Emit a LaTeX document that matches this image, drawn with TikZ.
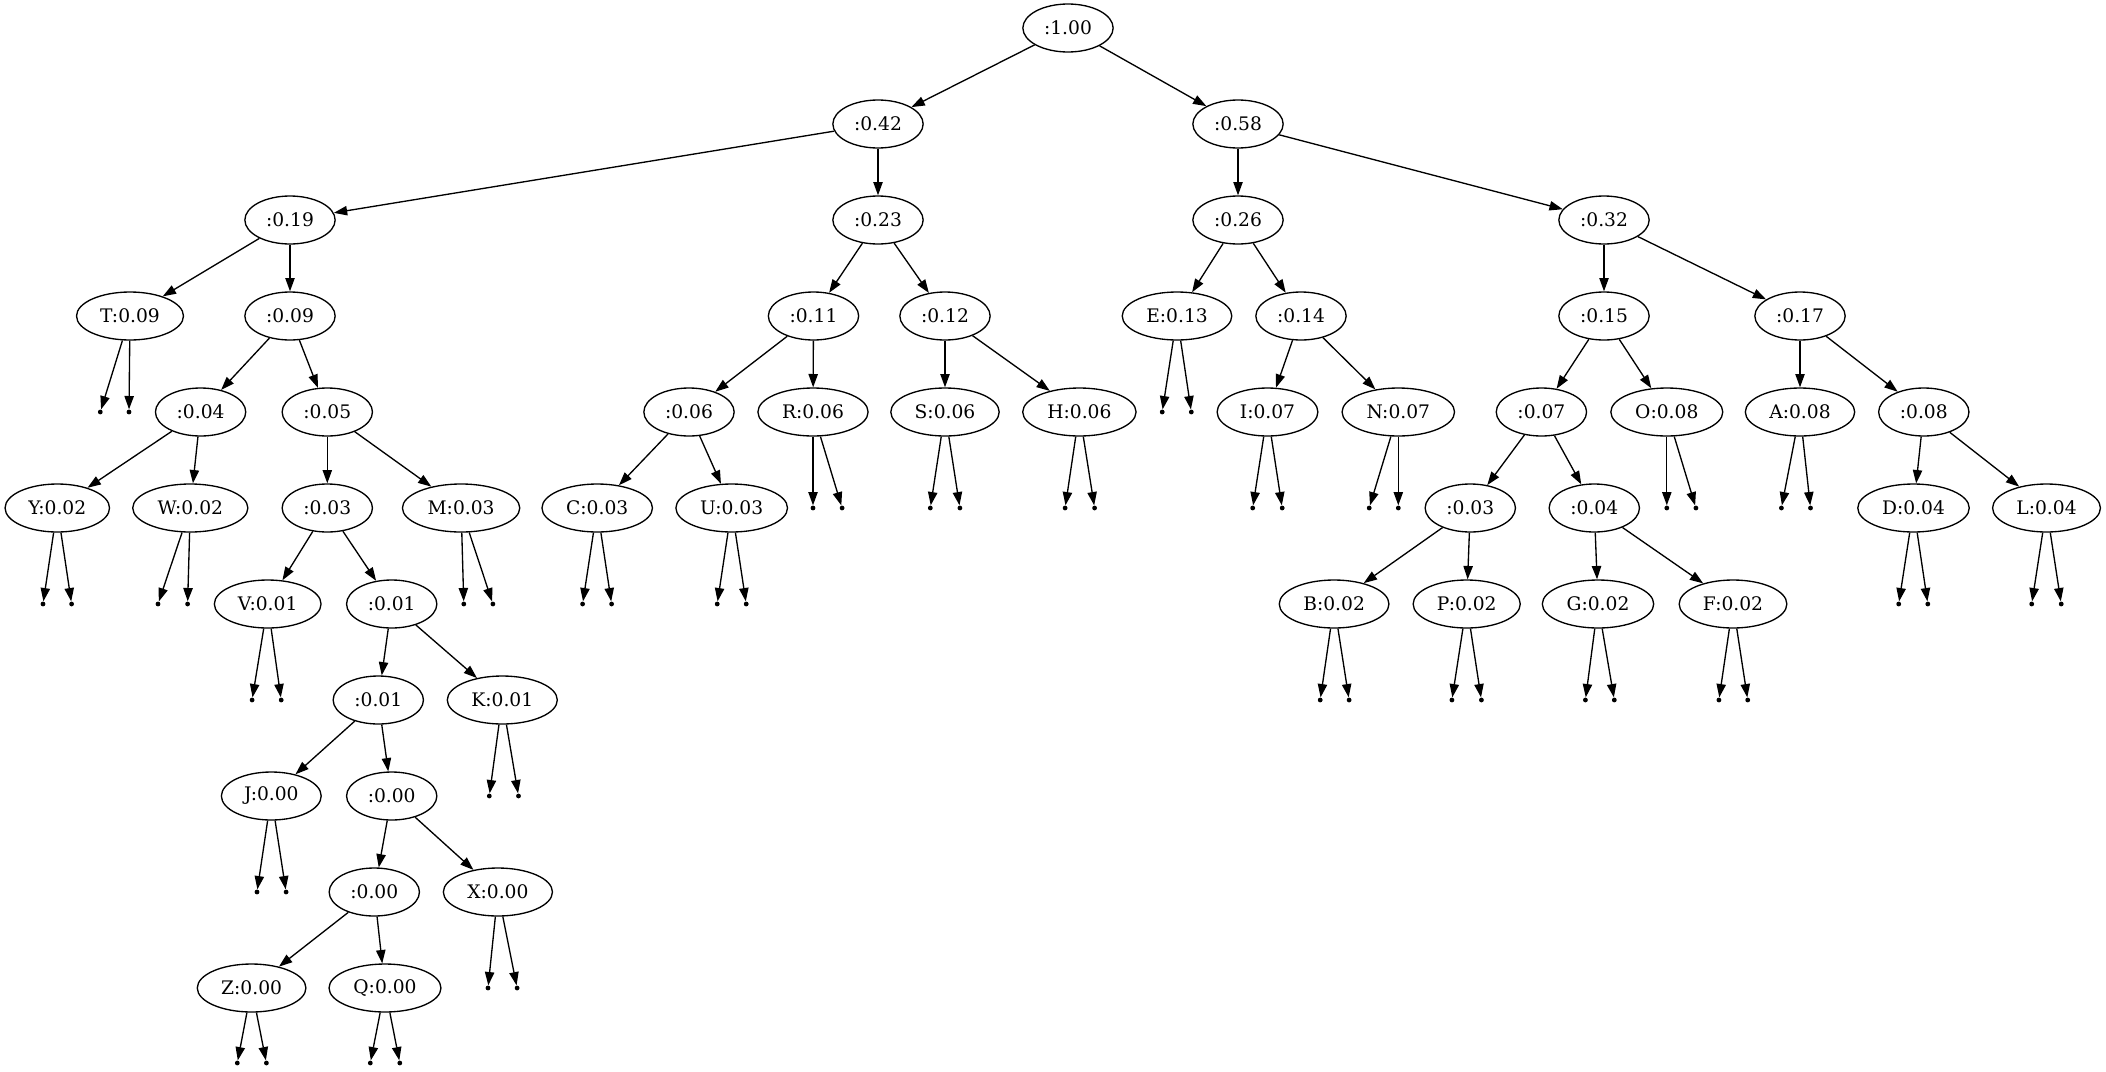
\documentclass[tikz,border=0pt]{standalone}
\usepackage{fontspec}
\setmainfont{DejaVu Serif}
\usetikzlibrary{shapes.geometric,arrows.meta}
\tikzset{
  nd/.style={draw, ellipse, line width=1pt, inner xsep=6pt, inner ysep=2pt,
    minimum height=36pt, minimum width=54pt, font=\fontsize{14pt}{16pt}\selectfont},
  pt/.style={circle, fill=black, draw=none, inner sep=0pt, minimum size=3.6pt},
  edge/.style={line width=1pt, -{Triangle[length=10pt,width=7pt]}}
}
\begin{document}
\begin{tikzpicture}[x=0.75pt,y=-0.75pt]
\useasboundingbox (0,0) rectangle (2106,1071);
% rank 0
\node[nd] (n100) at (1068,28) {:1.00};
% rank 1
\node[nd] (n042) at (878,124) {:0.42};
\node[nd] (n058) at (1238,124) {:0.58};
% rank 2
\node[nd] (n019) at (290,220) {:0.19};
\node[nd] (n023) at (878,220) {:0.23};
\node[nd] (n026) at (1238,220) {:0.26};
\node[nd] (n032) at (1604,220) {:0.32};
% rank 3
\node[nd] (T) at (130,316) {T:0.09};
\node[nd] (n009) at (290,316) {:0.09};
\node[nd] (n011) at (813.5,316) {:0.11};
\node[nd] (n012) at (945,316) {:0.12};
\node[nd] (E) at (1177,316) {E:0.13};
\node[nd] (n014) at (1301,316) {:0.14};
\node[nd] (n015) at (1604,316) {:0.15};
\node[nd] (n017) at (1800,316) {:0.17};
% rank 4
\node[pt] (pT1) at (100.3,412) {};
\node[pt] (pT2) at (129,412) {};
\node[nd] (n004a) at (200.6,412) {:0.04};
\node[nd] (n005) at (327.3,412) {:0.05};
\node[nd] (n006) at (689,412) {:0.06};
\node[nd] (R) at (813,412) {R:0.06};
\node[nd] (S) at (945,412) {S:0.06};
\node[nd] (H) at (1079.4,412) {H:0.06};
\node[pt] (pE1) at (1162.2,412) {};
\node[pt] (pE2) at (1191.3,412) {};
\node[nd] (I) at (1267.5,412) {I:0.07};
\node[nd] (N) at (1398.3,412) {N:0.07};
\node[nd] (n007) at (1541.4,412) {:0.07};
\node[nd] (O) at (1666.8,412) {O:0.08};
\node[nd] (A) at (1800,412) {A:0.08};
\node[nd] (n008) at (1923.8,412) {:0.08};
% rank 5
\node[nd] (Y) at (57.3,508) {Y:0.02};
\node[nd] (W) at (190.3,508) {W:0.02};
\node[nd] (n003a) at (327.3,508) {:0.03};
\node[nd] (M) at (461.1,508) {M:0.03};
\node[nd] (C) at (597.2,508) {C:0.03};
\node[nd] (U) at (731.7,508) {U:0.03};
\node[pt] (pR1) at (813,508) {};
\node[pt] (pR2) at (842.1,508) {};
\node[pt] (pS1) at (930.3,508) {};
\node[pt] (pS2) at (959.9,508) {};
\node[pt] (pH1) at (1065.1,508) {};
\node[pt] (pH2) at (1094.6,508) {};
\node[pt] (pI1) at (1252.7,508) {};
\node[pt] (pI2) at (1282.2,508) {};
\node[pt] (pN1) at (1369.2,508) {};
\node[pt] (pN2) at (1398.3,508) {};
\node[nd] (n003b) at (1470.3,508) {:0.03};
\node[nd] (n004b) at (1594.3,508) {:0.04};
\node[pt] (pO1) at (1666.8,508) {};
\node[pt] (pO2) at (1695.9,508) {};
\node[pt] (pA1) at (1781.4,508) {};
\node[pt] (pA2) at (1810.5,508) {};
\node[nd] (D) at (1913.5,508) {D:0.04};
\node[nd] (L) at (2046.5,508) {L:0.04};
% rank 6
\node[pt] (pY1) at (43,604) {};
\node[pt] (pY2) at (71.6,604) {};
\node[pt] (pW1) at (158,604) {};
\node[pt] (pW2) at (187.6,604) {};
\node[nd] (V) at (267.7,604) {V:0.01};
\node[nd] (n001a) at (391.7,604) {:0.01};
\node[pt] (pM1) at (463.8,604) {};
\node[pt] (pM2) at (492.9,604) {};
\node[pt] (pC1) at (582.6,604) {};
\node[pt] (pC2) at (611.6,604) {};
\node[pt] (pU1) at (717.2,604) {};
\node[pt] (pU2) at (746.2,604) {};
\node[nd] (B) at (1334.1,604) {B:0.02};
\node[nd] (P) at (1466.7,604) {P:0.02};
\node[nd] (G) at (1598,604) {G:0.02};
\node[nd] (F) at (1733,604) {F:0.02};
\node[pt] (pD1) at (1898.7,604) {};
\node[pt] (pD2) at (1927.8,604) {};
\node[pt] (pL1) at (2031.7,604) {};
\node[pt] (pL2) at (2061.2,604) {};
% rank 7
\node[pt] (pV1) at (252.1,700) {};
\node[pt] (pV2) at (281.2,700) {};
\node[nd] (n001b) at (378.3,700) {:0.01};
\node[nd] (K) at (502.3,700) {K:0.01};
\node[pt] (pB1) at (1320.2,700) {};
\node[pt] (pB2) at (1349.1,700) {};
\node[pt] (pP1) at (1451.9,700) {};
\node[pt] (pP2) at (1481.4,700) {};
\node[pt] (pG1) at (1585.4,700) {};
\node[pt] (pG2) at (1614.3,700) {};
\node[pt] (pF1) at (1718.9,700) {};
\node[pt] (pF2) at (1747.7,700) {};
% rank 8
\node[nd] (J) at (271.3,796) {J:0.00};
\node[nd] (n000a) at (391.7,796) {:0.00};
\node[pt] (pK1) at (489.3,796) {};
\node[pt] (pK2) at (518.5,796) {};
% rank 9
\node[pt] (pJ1) at (257,892) {};
\node[pt] (pJ2) at (286.1,892) {};
\node[nd] (n000b) at (374.3,892) {:0.00};
\node[nd] (X) at (497.9,892) {X:0.00};
% rank 10
\node[nd] (Z) at (251.6,988) {Z:0.00};
\node[nd] (Q) at (385,988) {Q:0.00};
\node[pt] (pX1) at (488,988) {};
\node[pt] (pX2) at (517.1,988) {};
% rank 11
\node[pt] (pZ1) at (237.3,1063) {};
\node[pt] (pZ2) at (266.4,1063) {};
\node[pt] (pQ1) at (370.3,1063) {};
\node[pt] (pQ2) at (399.8,1063) {};
% internal edges
\foreach \a/\b in {n100/n042,n100/n058,n042/n019,n042/n023,n058/n026,n058/n032,
  n019/T,n019/n009,n023/n011,n023/n012,n026/E,n026/n014,n032/n015,n032/n017,
  n009/n004a,n009/n005,n011/n006,n011/R,n012/S,n012/H,n014/I,n014/N,
  n015/n007,n015/O,n017/A,n017/n008,
  n004a/Y,n004a/W,n005/n003a,n005/M,n006/C,n006/U,n007/n003b,n007/n004b,
  n008/D,n008/L,n003a/V,n003a/n001a,n003b/B,n003b/P,n004b/G,n004b/F,
  n001a/n001b,n001a/K,n001b/J,n001b/n000a,n000a/n000b,n000a/X,n000b/Z,n000b/Q}
  \draw[edge] (\a) -- (\b);
% leaf edges to points
\foreach \l in {T,E,R,S,H,I,N,O,A,Y,W,M,C,U,D,L,V,B,P,G,F,K,J,X,Z,Q}{
  \draw[edge] (\l) -- (p\l1);
  \draw[edge] (\l) -- (p\l2);
}
\end{tikzpicture}
\end{document}
